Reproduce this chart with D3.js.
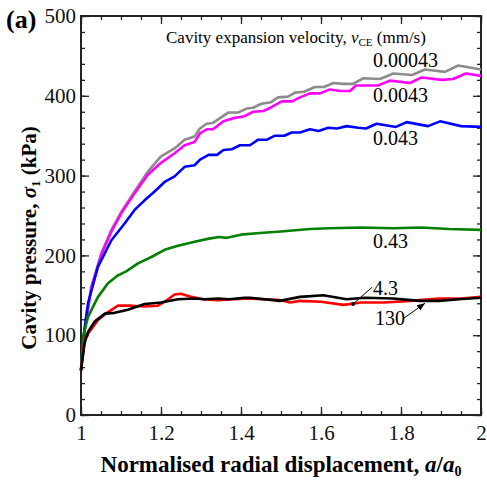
<!DOCTYPE html>
<html>
<head>
<meta charset="utf-8">
<script src="https://cdn.jsdelivr.net/npm/d3@7"></script>
<style>
  body { margin: 0; background: #fff; }
  text { font-family: "Liberation Serif", "Times New Roman", serif; }
</style>
</head>
<body>
<div id="chart"></div>
<script>
const width = 487;
const height = 481;

// series data: [a/a0, cavity pressure kPa]
var v00043 = [[1.0,56],[1.01,110],[1.026,161],[1.051,203],[1.076,232],[1.101,255],[1.134,280],[1.167,305],[1.2,324],
  [1.234,334],[1.259,345],[1.284,349],[1.2975,359],[1.314,365],[1.33,366],[1.3475,372],[1.368,379],[1.3925,379],
  [1.414,384],[1.43,385],[1.451,390],[1.475,392],[1.4925,398],[1.5175,399],[1.535,404],[1.5575,405],[1.585,411],
  [1.6075,411],[1.631,416],[1.656,415],[1.68,415],[1.706,422],[1.7475,421],[1.781,428],[1.8275,426],[1.86,433],
  [1.91,430],[1.943,438],[2.0,433]];
var v0043 = [[1.0,56],[1.01,110],[1.026,160],[1.051,201],[1.076,230],[1.101,253],[1.134,278],[1.167,301],[1.2,316],
  [1.234,328],[1.259,338],[1.284,342],[1.2975,353],[1.314,358],[1.33,358],[1.356,368],[1.381,372],[1.406,374],
  [1.431,380],[1.456,381],[1.477,386],[1.502,393],[1.5275,393],[1.5475,398],[1.5725,403],[1.5975,403],[1.6225,408],
  [1.6475,406],[1.6725,406],[1.6875,413],[1.7425,413],[1.7725,419],[1.8225,416],[1.852,423],[1.9025,420],
  [1.93,421],[1.9625,428],[2.0,425]];
var v043 = [[1.0,56],[1.008,105],[1.0175,140],[1.0425,186],[1.076,219],[1.109,240],[1.134,257],[1.159,269],[1.184,280],
  [1.209,292],[1.234,299],[1.259,311],[1.284,313],[1.2975,320],[1.319,326],[1.34,326],[1.356,332],[1.377,333],
  [1.3975,338],[1.4225,338],[1.443,345],[1.465,345],[1.485,350],[1.508,350],[1.527,354],[1.5475,354],[1.5725,358],
  [1.594,356],[1.618,360],[1.64,359],[1.664,362],[1.693,360],[1.7125,359],[1.739,365],[1.7875,361],[1.814,367],
  [1.8675,362],[1.8975,368],[1.95,362],[2.0,361]];
var v043b = [[1.0,56],[1.006,100],[1.0175,123],[1.0425,148],[1.0675,165],[1.0925,175],[1.113,180],[1.1425,190],
  [1.176,198],[1.209,207],[1.2425,212],[1.284,217],[1.32,221],[1.345,223],[1.365,222],[1.4,226],[1.4475,228],[1.5,230],
  [1.5725,233],[1.62,234],[1.7,235],[1.78,234],[1.85,235],[1.92,233],[2.0,232]];
var v43 = [[1.0,56],[1.009,95],[1.0175,102],[1.0425,119],[1.0675,129],[1.0925,137],[1.126,137],[1.159,136],[1.192,137],
  [1.209,142],[1.234,151],[1.25,152],[1.276,148],[1.304,145],[1.343,144],[1.38,145],[1.42,146],[1.4975,144],
  [1.5225,141],[1.5475,143],[1.6,142],[1.656,138],[1.7,141],[1.758,141],[1.825,143],[1.895,146],[1.95,146],[2.0,148]];
var v130 = [[1.0,56],[1.009,90],[1.0175,104],[1.034,117],[1.059,127],[1.084,128],[1.1175,132],[1.159,139],[1.2,141],
  [1.2425,145],[1.284,146],[1.309,145],[1.343,146],[1.37,145],[1.409,147],[1.4225,147],[1.4975,143],[1.5475,148],
  [1.606,150],[1.664,145],[1.71,147],[1.78,146],[1.8475,143],[1.895,143],[1.945,145],[2.0,147]];

var seriesNames = ["0.00043", "0.0043", "0.043", "0.43", "4.3", "130"];
var seriesData = [v00043, v0043, v043, v043b, v43, v130];
var seriesColors = ["#8c8c8c", "#ff00ff", "#0000ff", "#008000", "#ff0000", "#000000"];

var xTicks = [1, 1.2, 1.4, 1.6, 1.8, 2];
var yTicks = [0, 100, 200, 300, 400, 500];

var svg = d3.select("#chart").append("svg")
  .attr("width", width)
  .attr("height", height);

var x = d3.scaleLinear().domain([1, 2]).range([81, 481]);
var y = d3.scaleLinear().domain([0, 500]).range([415, 16]);

// frame
svg.append("rect")
  .attr("x", x(1)).attr("y", y(500))
  .attr("width", x(2) - x(1)).attr("height", y(0) - y(500))
  .attr("fill", "none").attr("stroke", "#222").attr("stroke-width", 2);

// ticks (inward) on all four sides
function styleAxis(g) {
  g.select(".domain").remove();
  g.selectAll("line").attr("stroke", "#222").attr("stroke-width", 1.3);
  g.selectAll("text").attr("font-size", 21).attr("fill", "#111")
    .attr("font-family", "'Liberation Serif', serif");
}
var xMinor = d3.range(1, 2.0001, 0.05);
var yMinor = d3.range(0, 500.1, 20);

svg.append("g").attr("transform", "translate(0," + y(0) + ")")
  .call(d3.axisBottom(x).tickValues(xMinor).tickSize(-4).tickFormat("")).call(styleAxis);
svg.append("g").attr("transform", "translate(0," + y(0) + ")")
  .call(d3.axisBottom(x).tickValues(xTicks).tickSize(-8).tickPadding(10).tickFormat(d3.format("~g"))).call(styleAxis);
svg.append("g").attr("transform", "translate(0," + y(500) + ")")
  .call(d3.axisTop(x).tickValues(xMinor).tickSize(-4).tickFormat("")).call(styleAxis);
svg.append("g").attr("transform", "translate(0," + y(500) + ")")
  .call(d3.axisTop(x).tickValues(xTicks).tickSize(-8).tickFormat("")).call(styleAxis);

svg.append("g").attr("transform", "translate(" + x(1) + ",0)")
  .call(d3.axisLeft(y).tickValues(yMinor).tickSize(-4).tickFormat("")).call(styleAxis);
svg.append("g").attr("transform", "translate(" + x(1) + ",0)")
  .call(d3.axisLeft(y).tickValues(yTicks).tickSize(-8).tickPadding(5)).call(styleAxis);
svg.append("g").attr("transform", "translate(" + x(2) + ",0)")
  .call(d3.axisRight(y).tickValues(yMinor).tickSize(-4).tickFormat("")).call(styleAxis);
svg.append("g").attr("transform", "translate(" + x(2) + ",0)")
  .call(d3.axisRight(y).tickValues(yTicks).tickSize(-8).tickFormat("")).call(styleAxis);

// curves
var line = d3.line().x(d => x(d[0])).y(d => y(d[1]));
var plot = svg.append("g");
seriesData.forEach((d, i) => {
  plot.append("path")
    .datum(d)
    .attr("d", line)
    .attr("fill", "none")
    .attr("stroke", seriesColors[i])
    .attr("stroke-width", 2.6)
    .attr("stroke-linejoin", "round");
});

// legend title
var lt = svg.append("text").attr("x", 166).attr("y", 43).attr("font-size", 17);
lt.append("tspan").text("Cavity expansion velocity, ");
lt.append("tspan").attr("font-style", "italic").text("v");
lt.append("tspan").attr("font-size", 11).attr("dy", 3).text("CE");
lt.append("tspan").attr("dy", -3).text(" (mm/s)");

// series labels
var labelPos = [[1.73, 67], [1.73, 102], [1.73, 145], [1.73, 248]];
labelPos.forEach((p, i) => {
  svg.append("text").attr("x", x(p[0])).attr("y", p[1])
    .attr("font-size", 20).text(seriesNames[i]);
});

// 4.3 leader
svg.append("line")
  .attr("x1", x(1.68)).attr("y1", y(139)).attr("x2", x(1.7275)).attr("y2", y(160))
  .attr("stroke", "#000").attr("stroke-width", 1);
svg.append("circle").attr("cx", x(1.68)).attr("cy", y(139)).attr("r", 2).attr("fill", "#000");
svg.append("text").attr("x", 373).attr("y", 295).attr("font-size", 20).text(seriesNames[4]);

// 130 arrow
svg.append("defs").append("marker")
  .attr("id", "arr").attr("viewBox", "0 0 10 10").attr("refX", 10).attr("refY", 5)
  .attr("markerWidth", 8).attr("markerHeight", 8).attr("orient", "auto")
  .append("path").attr("d", "M0,1 L10,5 L0,9 Z").attr("fill", "#000");
svg.append("line")
  .attr("x1", x(1.8075)).attr("y1", y(121.5)).attr("x2", x(1.86)).attr("y2", y(140))
  .attr("stroke", "#000").attr("stroke-width", 1).attr("marker-end", "url(#arr)");
svg.append("text").attr("x", 375).attr("y", 325).attr("font-size", 20).text(seriesNames[5]);

// axis titles
var xt = svg.append("text").attr("x", 281).attr("y", 472)
  .attr("text-anchor", "middle").attr("font-size", 23).attr("font-weight", "bold");
xt.append("tspan").text("Normalised radial displacement, ");
xt.append("tspan").attr("font-style", "italic").text("a");
xt.append("tspan").text("/");
xt.append("tspan").attr("font-style", "italic").text("a");
xt.append("tspan").attr("font-size", 14).attr("dy", 4).text("0");

var yt = svg.append("text").attr("transform", "translate(36,238) rotate(-90)")
  .attr("text-anchor", "middle").attr("font-size", 21).attr("font-weight", "bold");
yt.append("tspan").text("Cavity pressure, ");
yt.append("tspan").attr("font-style", "italic").text("σ");
yt.append("tspan").attr("font-size", 13).attr("dy", 4).text("1");
yt.append("tspan").attr("dy", -4).text(" (kPa)");

// panel label
svg.append("text").attr("x", 6).attr("y", 28).attr("font-size", 26).attr("font-weight", "bold").text("(a)");
</script>
</body>
</html>
